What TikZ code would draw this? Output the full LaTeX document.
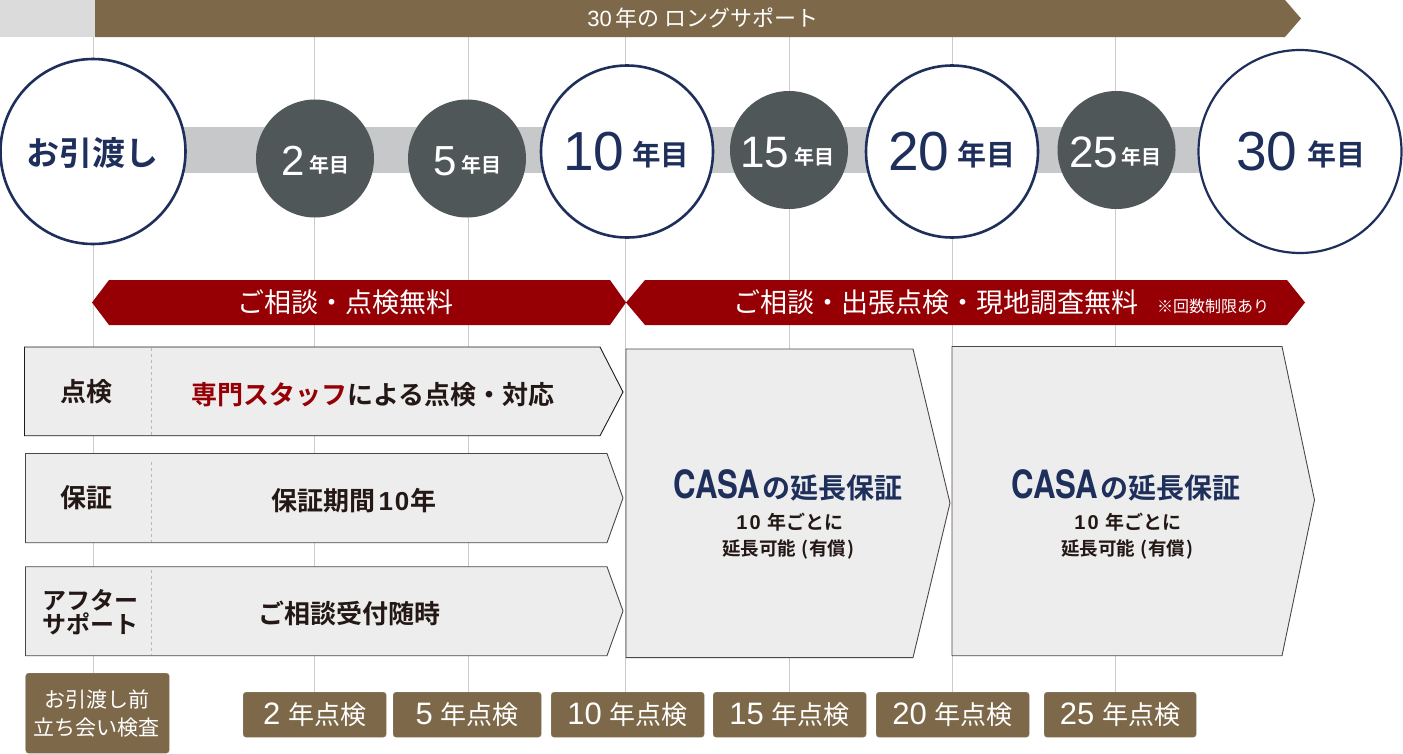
\documentclass[tikz,border=0pt]{standalone}
\usepackage{fontspec}
\setmainfont{Liberation Sans}
\newfontfamily\jp[BoldFont={Noto Sans CJK JP Bold}]{Noto Sans CJK JP}
\newfontfamily\casa[FakeStretch=0.8]{TeX Gyre Heros Bold}
\newcommand{\fsz}[1]{\fontsize{#1}{#1}\selectfont}
\newcommand{\upj}[2]{\raisebox{#1pt}{\jp\bfseries #2}}
\definecolor{brownC}{HTML}{7D694A}
\definecolor{navyC}{HTML}{1E2F5B}
\definecolor{slateC}{HTML}{505759}
\definecolor{redC}{HTML}{960005}
\definecolor{boxC}{HTML}{EDEDED}
\definecolor{bandC}{HTML}{C6C8CA}
\definecolor{inkC}{HTML}{231815}
\definecolor{ruleC}{HTML}{CBCBCB}
\tikzset{
  txt/.style={inner sep=0pt,outer sep=0pt,anchor=center,align=center},
  big/.style={circle,draw=navyC,line width=2.6pt,fill=white,inner sep=0pt},
  small/.style={circle,fill=slateC,inner sep=0pt},
  tag/.style={rectangle,rounded corners=3pt,fill=brownC,draw=brownC!85!white,line width=.4pt,inner sep=0pt,anchor=north west},
  rowbox/.style={fill=boxC,draw=inkC!80!white,line width=.9pt},
  divide/.style={draw=black!28,line width=1pt,dash pattern=on 3pt off 3pt},
  vline/.style={draw=ruleC,line width=1pt},
}
\begin{document}
\begin{tikzpicture}[x=1pt,y=-1pt]
\useasboundingbox (0,0) rectangle (1403,753);
% vertical rules
\foreach \n/\x in {a/93.5,b/314.5,c/468.5,d/625.5,e/789.5,f/952,g/1115.5}{
  \coordinate (top\n) at (\x,37);
  \coordinate (bot\n) at (\x,700);
  \draw[vline] (top\n) -- (bot\n);
}
% top banner
\fill[color=black!14!white] (0,0) rectangle (95,37);
\fill[brownC] (95,0) -- (1285,0) -- (1301,18.5) -- (1285,37) -- (95,37) -- cycle;
\node[txt,text=white] (lt) at (703,18.5) {\fsz{22}30\,{\jp 年の ロングサポート}};
% band
\fill[bandC] (94,127) rectangle (1300,173);
% circles
\node[big,minimum size=185pt] (c0) at (93,151.5) {};
\node[small,minimum size=118pt] (c2) at (315,158.5) {};
\node[small,minimum size=118pt] (c5) at (467,158.5) {};
\node[big,minimum size=172pt] (c10) at (627,151.5) {};
\node[small,minimum size=118pt] (c15) at (789,150) {};
\node[big,minimum size=172pt] (c20) at (952,151.5) {};
\node[small,minimum size=118pt] (c25) at (1116.5,150) {};
\node[big,line width=2.2pt,minimum size=203pt] (c30) at (1300,151.5) {};
\node[txt,text=navyC] (l0) at (93,153) {\fsz{33}\jp\bfseries お引渡し};
\node[txt,text=white,anchor=base west] (l2) at (281,175) {\fsz{42}2\hspace{5pt}{\fsz{20}\upj{3}{年目}}};
\node[txt,text=white,anchor=base west] (l5) at (433,175) {\fsz{42}5\hspace{5pt}{\fsz{20}\upj{3}{年目}}};
\node[txt,text=navyC,anchor=base west] (l10) at (563,170) {\fsz{55}10\hspace{8pt}{\fsz{28.5}\upj{5}{年目}}};
\node[txt,text=white,anchor=base west] (l15) at (740,167) {\fsz{44}15\hspace{6pt}{\fsz{20}\upj{3}{年目}}};
\node[txt,text=navyC,anchor=base west] (l20) at (888,170) {\fsz{55}20\hspace{8pt}{\fsz{29}\upj{5}{年目}}};
\node[txt,text=white,anchor=base west] (l25) at (1069,167) {\fsz{44}25\hspace{4pt}{\fsz{20}\upj{3}{年目}}};
\node[txt,text=navyC,anchor=base west] (l30) at (1236,170) {\fsz{55}30\hspace{10pt}{\fsz{29}\upj{5}{年目}}};
% red arrows
\fill[redC] (92,302.5) -- (109,280) -- (610,280) -- (626,302.5) -- (610,325) -- (109,325) -- cycle;
\fill[redC] (626,302.5) -- (645,280) -- (1287,280) -- (1305,302.5) -- (1287,325) -- (645,325) -- cycle;
\node[txt,text=white] (r1) at (345,302.5) {\fsz{27}\jp ご相談・点検無料};
\node[txt,text=white] (r2) at (936,302.5) {\fsz{27}\jp ご相談・出張点検・現地調査無料};
\node[txt,text=white] (r3) at (1213,306.5) {\fsz{16}\jp ※回数制限あり};
% rows
\draw[rowbox,draw=inkC] (24.5,347) -- (600,347) -- (623,392) -- (600,435.7) -- (24.5,435.7) -- cycle;
\draw[rowbox] (25.5,453.5) -- (607,453.5) -- (623,498) -- (607,542.7) -- (25.5,542.7) -- cycle;
\draw[rowbox] (25.5,566.7) -- (607,566.7) -- (623,611) -- (607,655.7) -- (25.5,655.7) -- cycle;
\draw[divide] (151,348) -- (151,435);
\draw[divide] (151,462) -- (151,542);
\draw[divide] (151,570) -- (151,655);
\node[txt,text=inkC] (k1) at (86,392) {\fsz{26}\jp\bfseries 点検};
\node[txt,text=inkC] (k2) at (86,497.5) {\fsz{26}\jp\bfseries 保証};
\node[txt,text=inkC,font=\fsz{24}\jp\bfseries] (k3) at (90,612) {アフター\\サポート};
\node[txt,text=inkC] (v1) at (373,395) {\fsz{26}\jp\bfseries{\color{redC}専門スタッフ}による点検・対応};
\node[txt,text=inkC] (v2) at (354,501) {\fsz{26}\jp\bfseries 保証期間\hspace{3pt}{\rmfamily 1\hspace{2pt}0}\hspace{1pt}年};
\node[txt,text=inkC] (v3) at (349,613) {\fsz{26}\jp\bfseries ご相談受付随時};
% CASA boxes
\draw[rowbox] (626,349) -- (913,349) -- (950,503) -- (913,657.6) -- (626,657.6) -- cycle;
\draw[rowbox] (952,346.5) -- (1282,346.5) -- (1314.5,500) -- (1282,655.7) -- (952,655.7) -- cycle;
\node[txt,text=navyC] (a1) at (788,485.5) {\fsz{39}\casa CASA\hspace{2pt}{\fsz{28}\jp\bfseries の延長保証}};
\node[txt,text=navyC] (a2) at (1126,485.5) {\fsz{39}\casa CASA\hspace{2pt}{\fsz{28}\jp\bfseries の延長保証}};
\node[txt,text=inkC] (b1) at (790,522) {\fsz{20}\bfseries 1\hspace{2pt}0\hspace{7pt}{\fsz{19}\jp\bfseries 年ごとに}};
\node[txt,text=inkC] (b2) at (1128,522) {\fsz{20}\bfseries 1\hspace{2pt}0\hspace{7pt}{\fsz{19}\jp\bfseries 年ごとに}};
\node[txt,text=inkC] (d1) at (788,549) {\fsz{18.5}\jp\bfseries 延長可能\hspace{5pt}(\hspace{1pt}有償\hspace{1pt})};
\node[txt,text=inkC] (d2) at (1127,549) {\fsz{18.5}\jp\bfseries 延長可能\hspace{5pt}(\hspace{1pt}有償\hspace{1pt})};
% tags
\node[tag,minimum width=143.5pt,minimum height=80pt] (t0) at (25.5,673) {};
\node[tag,minimum width=143pt,minimum height=45pt] (t2) at (243,692) {};
\node[tag,minimum width=148pt,minimum height=45pt] (t5) at (393,692) {};
\node[tag,minimum width=153pt,minimum height=45pt] (t10) at (551,692) {};
\node[tag,minimum width=153pt,minimum height=45pt] (t15) at (713,692) {};
\node[tag,minimum width=153pt,minimum height=45pt] (t20) at (876,692) {};
\node[tag,minimum width=152pt,minimum height=45pt] (t25) at (1044,692) {};
\node[txt,text=white] (x01) at (97,699) {\fsz{21}\jp お引渡し前};
\node[txt,text=white] (x02) at (97,728) {\fsz{21}\jp 立ち会い検査};
\node[txt,text=white] (x2) at (t2.center) {\fsz{31}2\hspace{8pt}{\fsz{26}\jp 年点検}};
\node[txt,text=white] (x5) at (t5.center) {\fsz{31}5\hspace{8pt}{\fsz{26}\jp 年点検}};
\node[txt,text=white] (x10) at (t10.center) {\fsz{31}10\hspace{8pt}{\fsz{26}\jp 年点検}};
\node[txt,text=white] (x15) at (t15.center) {\fsz{31}15\hspace{8pt}{\fsz{26}\jp 年点検}};
\node[txt,text=white] (x20) at (t20.center) {\fsz{31}20\hspace{8pt}{\fsz{26}\jp 年点検}};
\node[txt,text=white] (x25) at (t25.center) {\fsz{31}25\hspace{8pt}{\fsz{26}\jp 年点検}};
\end{tikzpicture}
\end{document}
